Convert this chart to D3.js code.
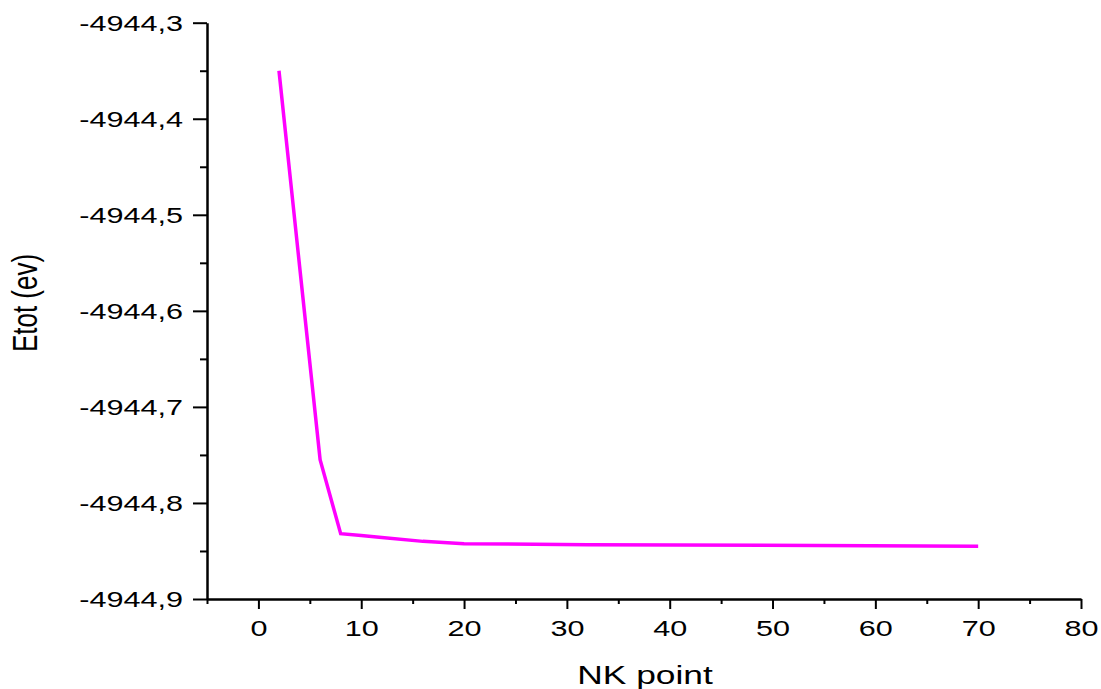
<!DOCTYPE html>
<html>
<head>
<meta charset="utf-8">
<script src="https://cdn.jsdelivr.net/npm/d3@7"></script>
<style>
	body { margin: 0; background: #fff; }
	svg { display: block; }
	text { font-family: "Liberation Sans", Arial, sans-serif; fill: #000; }
</style>
</head>
<body>
<div id="chart"></div>
<script>
	// NK point convergence test
	var nkPoints = [2, 4, 6, 8, 10, 12, 16, 20, 32, 70];
	var etotValues = [-4944.350, -4944.553, -4944.755, -4944.832, -4944.834, -4944.836, -4944.840, -4944.8425, -4944.8434, -4944.8451];
	var yTickValues = [-4944.9, -4944.8, -4944.7, -4944.6, -4944.5, -4944.4, -4944.3];
	var xTickValues = [0, 10, 20, 30, 40, 50, 60, 70, 80];

	var w = 1101, h = 689;
	// the picture is stretched sideways, so is the text
	var sx = 1.36;

	var svg = d3.select("#chart")
		.append("svg")
		.attr("width", w)
		.attr("height", h);

	var x = d3.scaleLinear().domain([-5, 80]).range([207, 1081]);
	var y = d3.scaleLinear().domain([-4944.9, -4944.3]).range([599, 22.7]);

	// comma decimals, plain hyphen for minus
	var fmt = function(d) { return d.toFixed(1).replace(".", ","); };

	// minor ticks first
	var yMinor = d3.range(-4944.85, -4944.3, 0.1);
	svg.append("g")
		.attr("transform", "translate(207,0)")
		.call(d3.axisLeft(y).tickValues(yMinor).tickSize(7).tickFormat(""))
		.call(function(g) { g.select(".domain").remove(); });

	svg.append("g")
		.attr("transform", "translate(0,599)")
		.call(d3.axisBottom(x).tickValues(d3.range(-5, 80, 10)).tickSize(5).tickFormat(""))
		.call(function(g) { g.select(".domain").remove(); });

	var gy = svg.append("g")
		.attr("class", "yaxis")
		.attr("transform", "translate(207,0)")
		.call(d3.axisLeft(y).tickValues(yTickValues).tickSize(14).tickSizeOuter(0).tickFormat(fmt));

	gy.selectAll("text")
		.attr("x", 0)
		.attr("dy", "0.35em")
		.attr("transform", "translate(-24,0) scale(" + sx + ",1)")
		.style("font-size", "22.5px");

	var gx = svg.append("g")
		.attr("class", "xaxis")
		.attr("transform", "translate(0,599)")
		.call(d3.axisBottom(x).tickValues(xTickValues).tickSize(10).tickSizeOuter(0));

	gx.selectAll("text")
		.attr("y", 0)
		.attr("dy", 0)
		.attr("transform", "translate(0,37) scale(" + sx + ",1)")
		.style("font-size", "22.5px");

	svg.selectAll(".domain, .tick line")
		.attr("stroke", "#000")
		.attr("stroke-width", 2);

	svg.selectAll(".domain")
		.attr("stroke-width", 2.5);

	// line
	var pts = nkPoints.map(function(d, i) { return [d, etotValues[i]]; });
	svg.append("path")
		.datum(pts)
		.attr("fill", "none")
		.attr("stroke", "#ff00ff")
		.attr("stroke-width", 3.5)
		.attr("d", d3.line()
			.x(function(d) { return x(d[0]); })
			.y(function(d) { return y(d[1]); }));

	// axis titles
	svg.append("text")
		.attr("transform", "translate(645,684) scale(" + sx + ",1)")
		.attr("text-anchor", "middle")
		.style("font-size", "26px")
		.text("NK point");

	svg.append("text")
		.attr("transform", "translate(37,303) rotate(-90) scale(1," + sx + ")")
		.attr("text-anchor", "middle")
		.style("font-size", "26px")
		.text("Etot (ev)");
</script>
</body>
</html>
